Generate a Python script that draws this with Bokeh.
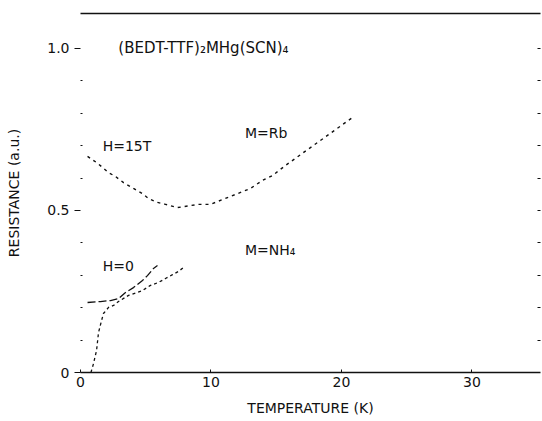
from bokeh.plotting import figure
from bokeh.models import Range1d, LinearAxis, Label, FixedTicker
from bokeh.embed import file_html
from bokeh.resources import INLINE

# Resistance vs temperature for (BEDT-TTF)2MHg(SCN)4
# M=Rb at H=15T: falls to a minimum near 8-10 K then rises again
rb_15t_temp = [0.54, 1.23, 1.69, 2.15, 2.68, 3.30, 4.06, 4.75, 5.21, 5.90, 6.51,
               7.43, 9.04, 9.96, 13.03, 13.95, 14.71, 15.71, 20.84]
rb_15t_res = [0.667, 0.648, 0.633, 0.617, 0.605, 0.586, 0.568, 0.552, 0.537, 0.525,
              0.519, 0.509, 0.519, 0.519, 0.568, 0.593, 0.608, 0.639, 0.787]

# M=Rb at H=0: flat at low temperature, then rising
rb_0_temp = [0.54, 1.53, 2.30, 2.91, 3.45, 4.06, 4.75, 5.13, 5.59, 5.90]
rb_0_res = [0.216, 0.219, 0.222, 0.228, 0.247, 0.262, 0.284, 0.299, 0.321, 0.330]

# M=NH4 at H=0: superconducting drop to zero near 1 K
nh4_0_temp = [0.80, 1.00, 1.23, 1.38, 1.61, 1.76, 2.15, 2.53, 2.91, 3.68, 4.75,
              5.36, 5.98, 6.51, 7.05, 7.51, 7.89]
nh4_0_res = [0.0, 0.028, 0.068, 0.123, 0.160, 0.182, 0.201, 0.207, 0.219, 0.238,
             0.253, 0.269, 0.278, 0.290, 0.302, 0.312, 0.324]

x_ticks = [0, 10, 20, 30]
y_major_ticks = [0, 0.5, 1.0]
y_tick_labels = {0: "0", 0.5: "0.5", 1.0: "1.0"}
y_minor_ticks = [0.1, 0.2, 0.3, 0.4, 0.6, 0.7, 0.8, 0.9]
y_all_ticks = [0.1, 0.2, 0.3, 0.4, 0.5, 0.6, 0.7, 0.8, 0.9, 1.0]

FONT = "DejaVu Sans"
INK = "#111111"

p = figure(width=542, height=421, output_backend="svg", toolbar_location=None,
           x_range=Range1d(0, 35.25), y_range=Range1d(0, 1.108),
           min_border_left=80, min_border_right=2, min_border_top=13,
           min_border_bottom=49, background_fill_color="white",
           border_fill_color="white", outline_line_color=None)
p.grid.visible = False

# bottom axis
xa = p.xaxis[0]
xa.ticker = FixedTicker(ticks=x_ticks)
xa.axis_label = "TEMPERATURE (K)"
xa.axis_line_color = INK
xa.axis_line_width = 1.5
xa.major_tick_in = 3
xa.major_tick_out = 0
xa.minor_tick_line_color = None
xa.major_tick_line_color = INK
xa.major_label_text_font = FONT
xa.major_label_text_font_size = "14px"
xa.major_label_text_color = INK
xa.major_label_standoff = 4
xa.axis_label_text_font = FONT
xa.axis_label_text_font_size = "14px"
xa.axis_label_text_font_style = "normal"
xa.axis_label_text_color = INK
xa.axis_label_standoff = 10

# left axis
ya = p.yaxis[0]
ya.ticker = FixedTicker(ticks=y_major_ticks, minor_ticks=y_minor_ticks)
ya.major_label_overrides = y_tick_labels
ya.axis_label = "RESISTANCE (a.u.)"
ya.axis_line_color = None
ya.major_tick_line_color = INK
ya.major_tick_in = 0
ya.major_tick_out = 6
ya.minor_tick_line_color = INK
ya.minor_tick_in = 2
ya.minor_tick_out = 0
ya.major_label_text_font = FONT
ya.major_label_text_font_size = "14px"
ya.major_label_text_color = INK
ya.major_label_standoff = 5
ya.axis_label_text_font = FONT
ya.axis_label_text_font_size = "14px"
ya.axis_label_text_font_style = "normal"
ya.axis_label_text_color = INK
ya.axis_label_standoff = 22

# right axis: small inward tick marks only
ra = LinearAxis(ticker=FixedTicker(ticks=[], minor_ticks=y_all_ticks),
                axis_line_color=None, major_tick_line_color=None,
                minor_tick_line_color=INK, minor_tick_in=3, minor_tick_out=0)
p.add_layout(ra, "right")

# top axis: frame line only
ta = LinearAxis(ticker=FixedTicker(ticks=[], minor_ticks=[]), axis_line_color=INK,
                axis_line_width=1.5, major_tick_line_color=None,
                minor_tick_line_color=None)
p.add_layout(ta, "above")

# curves
p.line(rb_15t_temp, rb_15t_res, line_color=INK, line_width=1.4, line_dash="3 4")
p.line(rb_0_temp, rb_0_res, line_color=INK, line_width=1.3, line_dash="8 3")
p.line(nh4_0_temp, nh4_0_res, line_color=INK, line_width=1.3, line_dash="3 3")

# annotations
def add_label(x, y, text, size="14px"):
    p.add_layout(Label(x=x, y=y, text=text, text_font=FONT, text_font_size=size,
                       text_color=INK, text_baseline="middle", text_align="left"))

add_label(2.9, 1.0, "(BEDT-TTF)\u2082MHg(SCN)\u2084", "15px")
add_label(1.7, 0.70, "H=15T")
add_label(12.6, 0.738, "M=Rb")
add_label(1.7, 0.33, "H=0")
add_label(12.6, 0.377, "M=NH\u2084")

open("out.html", "w").write(file_html(p, INLINE))
